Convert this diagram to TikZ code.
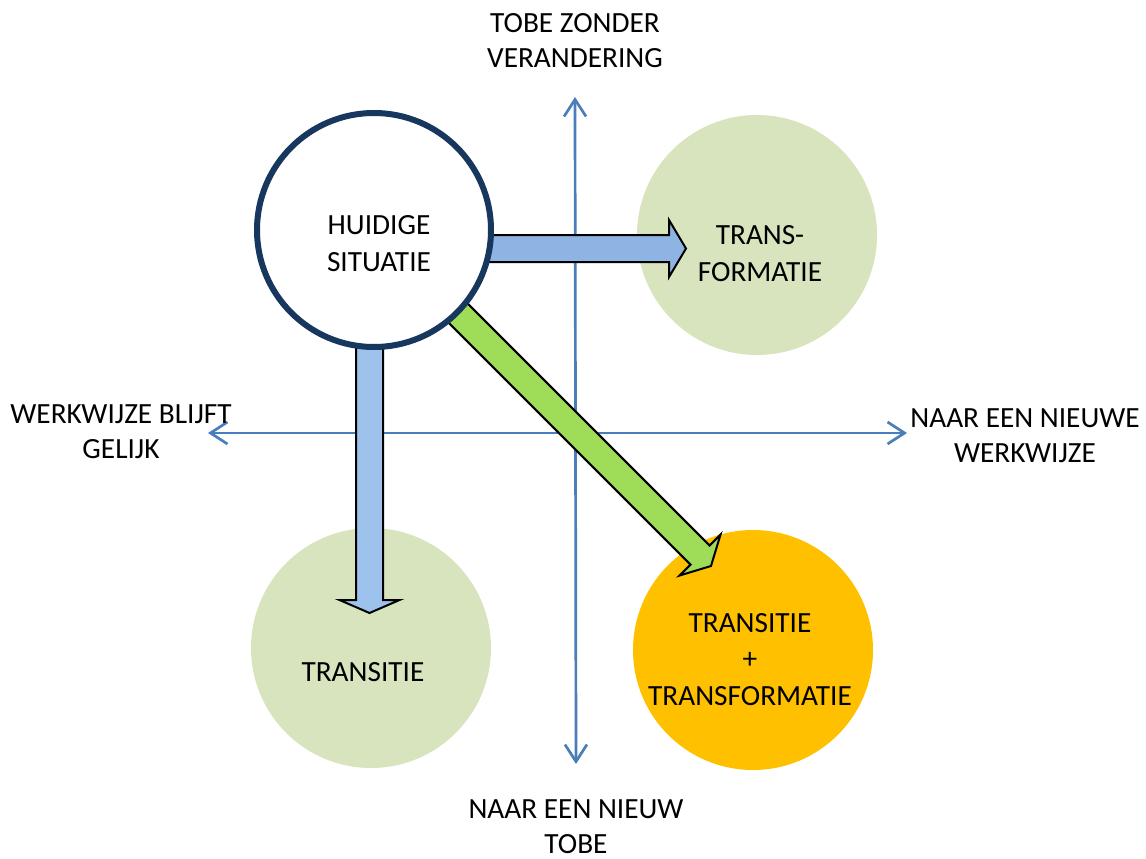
\documentclass[tikz,border=0pt]{standalone}
\usepackage{fontspec}
\setmainfont{Carlito}
\usetikzlibrary{arrows.meta,calc}
\definecolor{axisblue}{HTML}{4A7EBB}
\definecolor{lightgreen}{HTML}{D7E4BD}
\definecolor{amber}{HTML}{FFC000}
\definecolor{navy}{HTML}{17375E}
\definecolor{harrow}{HTML}{8EB4E3}
\definecolor{varrow}{HTML}{9DC3EC}
\definecolor{garrow}{HTML}{9FDC58}
\newcommand\blockarr[6]{%
  \coordinate (#1-hb) at ($(#2)!#5!(#1)$);
  \draw[#6] ($(#1)!#3!90:(#2)$) -- ($(#1-hb)!#3!90:(#2)$) -- ($(#1-hb)!#4!90:(#2)$) -- (#2)
    -- ($(#1-hb)!#4!-90:(#2)$) -- ($(#1-hb)!#3!-90:(#2)$) -- ($(#1)!#3!-90:(#2)$) -- cycle;}
\tikzset{
  axis/.style={draw=axisblue, line width=2.7pt, -{Straight Barb[length=17pt,width=22pt]}},
  lbl/.style={anchor=base, align=center, font=\fontsize{29.3}{34.5}\selectfont, inner sep=0pt},
  clbl/.style={anchor=base, align=center, font=\fontsize{29.3}{36.5}\selectfont, inner sep=0pt},
  bubble/.style={circle, minimum size=240pt, inner sep=0pt},
  barrow/.style={draw=black, line width=2pt, line join=miter},
}
\begin{document}
\begin{tikzpicture}[x=1pt,y=-1pt]
\useasboundingbox (0,0) rectangle (1146,859);
% axes
\coordinate (vtop) at (575,97);
\coordinate (vbot) at (576,764);
\coordinate (hleft) at (208,433);
\coordinate (hright) at (907,433);
\coordinate (vmid) at (575.5,433);
\draw[axis] (vmid) -- (vtop);
\draw[axis] (vmid) -- (vbot);
\draw[axis] (vmid) -- (hleft);
\draw[axis] (vmid) -- (hright);
% bubbles
\node[bubble, fill=lightgreen] (tf) at (757,235) {};
\node[bubble, fill=lightgreen] (ts) at (371,648) {};
\node[bubble, fill=amber] (tt) at (753,650) {};
% block arrows
\coordinate (h0) at (440,248.5);
\coordinate (h1) at (686,248.5);
\coordinate (v0) at (369.5,300);
\coordinate (v1) at (369.5,613);
\coordinate (g0) at (430,285);
\coordinate (g1) at (711,566);
\blockarr{h0}{h1}{13.5pt}{28.5pt}{17pt}{barrow, fill=harrow}
\blockarr{v0}{v1}{13.5pt}{30pt}{13pt}{barrow, fill=varrow}
\blockarr{g0}{g1}{13.5pt}{29pt}{15.5pt}{barrow, fill=garrow}
% current situation
\node[circle, minimum size=234pt, inner sep=0pt, draw=navy, line width=6pt, fill=white] (hs) at (374,230) {};
% texts
\node[clbl] at (379,271) {HUIDIGE\\SITUATIE};
\node[clbl] at (760,281) {TRANS-\\FORMATIE};
\node[clbl] at (363,681) {TRANSITIE};
\node[clbl] at (750,705) {TRANSITIE\\+\\TRANSFORMATIE};
\node[lbl] (ltop) at (575,67) {TOBE ZONDER\\VERANDERING};
\node[lbl] (lbot) at (576,853) {NAAR EEN NIEUW\\TOBE};
\node[lbl] (lleft) at (121,458) {WERKWIJZE BLIJFT\\GELIJK};
\node[lbl] (lright) at (1025,462) {NAAR EEN NIEUWE\\WERKWIJZE};
\end{tikzpicture}
\end{document}
